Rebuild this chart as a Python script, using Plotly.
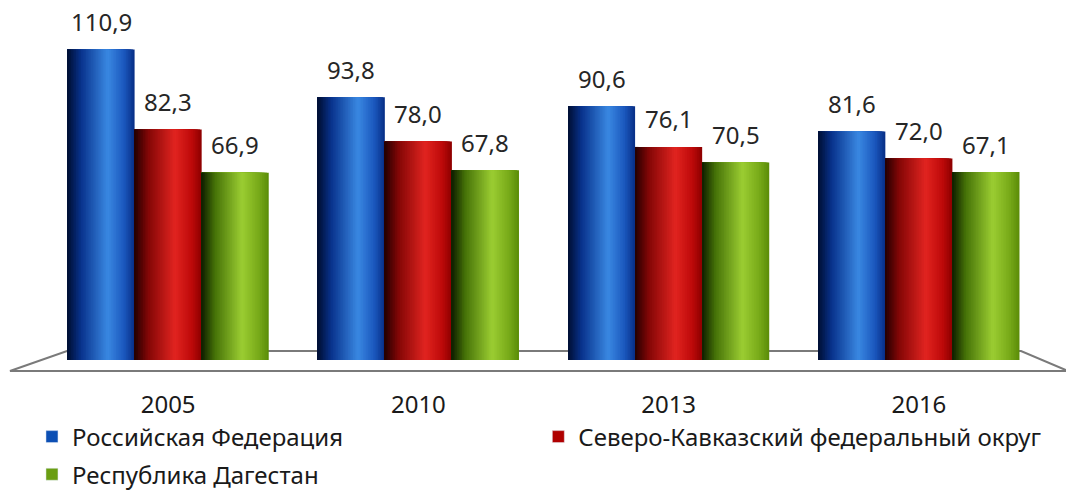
import plotly.graph_objects as go

# ---- data ----
years = ["2005", "2010", "2013", "2016"]
series_names = [
    "Российская Федерация",
    "Северо-Кавказский федеральный округ",
    "Республика Дагестан",
]
russia = [110.9, 93.8, 90.6, 81.6]
north_caucasus = [82.3, 78.0, 76.1, 72.0]
dagestan = [66.9, 67.8, 70.5, 67.1]
values = [russia, north_caucasus, dagestan]

# ---- styling ----
# gradient stops across each cylinder: (position 0..1, rgb)
shades = [
    [(0.0, (0, 14, 50)), (0.2, (8, 50, 140)), (0.6, (58, 136, 226)), (0.85, (26, 86, 188)), (1.0, (8, 46, 132))],
    [(0.0, (35, 0, 0)), (0.2, (130, 6, 6)), (0.6, (225, 36, 32)), (0.85, (190, 10, 10)), (1.0, (140, 0, 0))],
    [(0.0, (14, 30, 0)), (0.2, (70, 115, 8)), (0.6, (155, 205, 50)), (0.85, (120, 170, 25)), (1.0, (90, 140, 8))],
]
legend_colors = ["#0c4fb4", "#b00000", "#6a9e12"]
legend_ids = ["legend", "legend2", "legend3"]

N_STRIPS = 40
BAR_W = 0.268
FONT = "Noto Sans"


def shade_at(stops, t):
    for (t0, c0), (t1, c1) in zip(stops, stops[1:]):
        if t0 <= t <= t1:
            f = (t - t0) / (t1 - t0) if t1 > t0 else 0
            return "rgb(%d,%d,%d)" % tuple(round(a + (b - a) * f) for a, b in zip(c0, c1))
    return "rgb(%d,%d,%d)" % stops[-1][1]


x_pos = list(range(len(years)))
fig = go.Figure()

for s, (name, vals) in enumerate(zip(series_names, values)):
    left = (s - 1) * BAR_W - BAR_W / 2
    sw = BAR_W / N_STRIPS
    # shaded cylinder body: widest strip first, each narrower one drawn on top
    for k in reversed(range(N_STRIPS)):
        t = (k + 0.5) / N_STRIPS
        fig.add_trace(go.Bar(
            x=x_pos, y=vals,
            width=(k + 1) * sw, offset=left,
            marker=dict(color=shade_at(shades[s], t), line=dict(width=0)),
            showlegend=False, hoverinfo="skip",
        ))
    # legend entry for the series
    fig.add_trace(go.Bar(
        x=x_pos, y=[None] * len(vals), name=name,
        marker=dict(color=legend_colors[s]),
        legend=legend_ids[s],
        showlegend=True, hoverinfo="skip",
    ))

# value labels above each cylinder
for s, vals in enumerate(values):
    for i, v in enumerate(vals):
        fig.add_annotation(
            x=i + (s - 1) * BAR_W, y=v, text=f"{v:.1f}".replace(".", ","),
            showarrow=False, yshift=28, xref="x", yref="y",
            font=dict(family=FONT, size=24, color="#262626"),
        )


# floor of the chart (perspective parallelogram)
def px_x(p):
    return (p - 43) / 1001


def px_y(p):
    return (360 - p) / 350


floor_path = "M {} {} L {} {} L {} {} L {} {} Z".format(
    px_x(10), px_y(371), px_x(67), px_y(351), px_x(1021), px_y(351), px_x(1068), px_y(371)
)
fig.add_shape(type="path", path=floor_path, xref="paper", yref="paper",
              line=dict(color="#7a7a7a", width=2), layer="below")

legend_style = dict(
    orientation="h", xref="container", yref="container",
    xanchor="left", yanchor="middle",
    font=dict(size=24, color="#1a1a1a"), bgcolor="rgba(0,0,0,0)",
)

fig.update_layout(
    width=1066, height=497,
    margin=dict(l=43, r=22, t=10, b=137, autoexpand=False),
    barmode="overlay",
    plot_bgcolor="white", paper_bgcolor="white",
    font=dict(family=FONT, size=24, color="#1a1a1a"),
    xaxis=dict(
        range=[-0.5, 3.5], tickvals=x_pos, ticktext=years,
        showgrid=False, zeroline=False, showline=False, ticks="",
        ticklabelstandoff=28, tickfont=dict(size=24, color="#1a1a1a"),
    ),
    yaxis=dict(range=[0, 125], visible=False),
    legend=dict(legend_style, x=0.03, y=0.1207),
    legend2=dict(legend_style, x=0.505, y=0.1207),
    legend3=dict(legend_style, x=0.03, y=0.045),
    showlegend=True,
)

fig.write_html("out.html")
